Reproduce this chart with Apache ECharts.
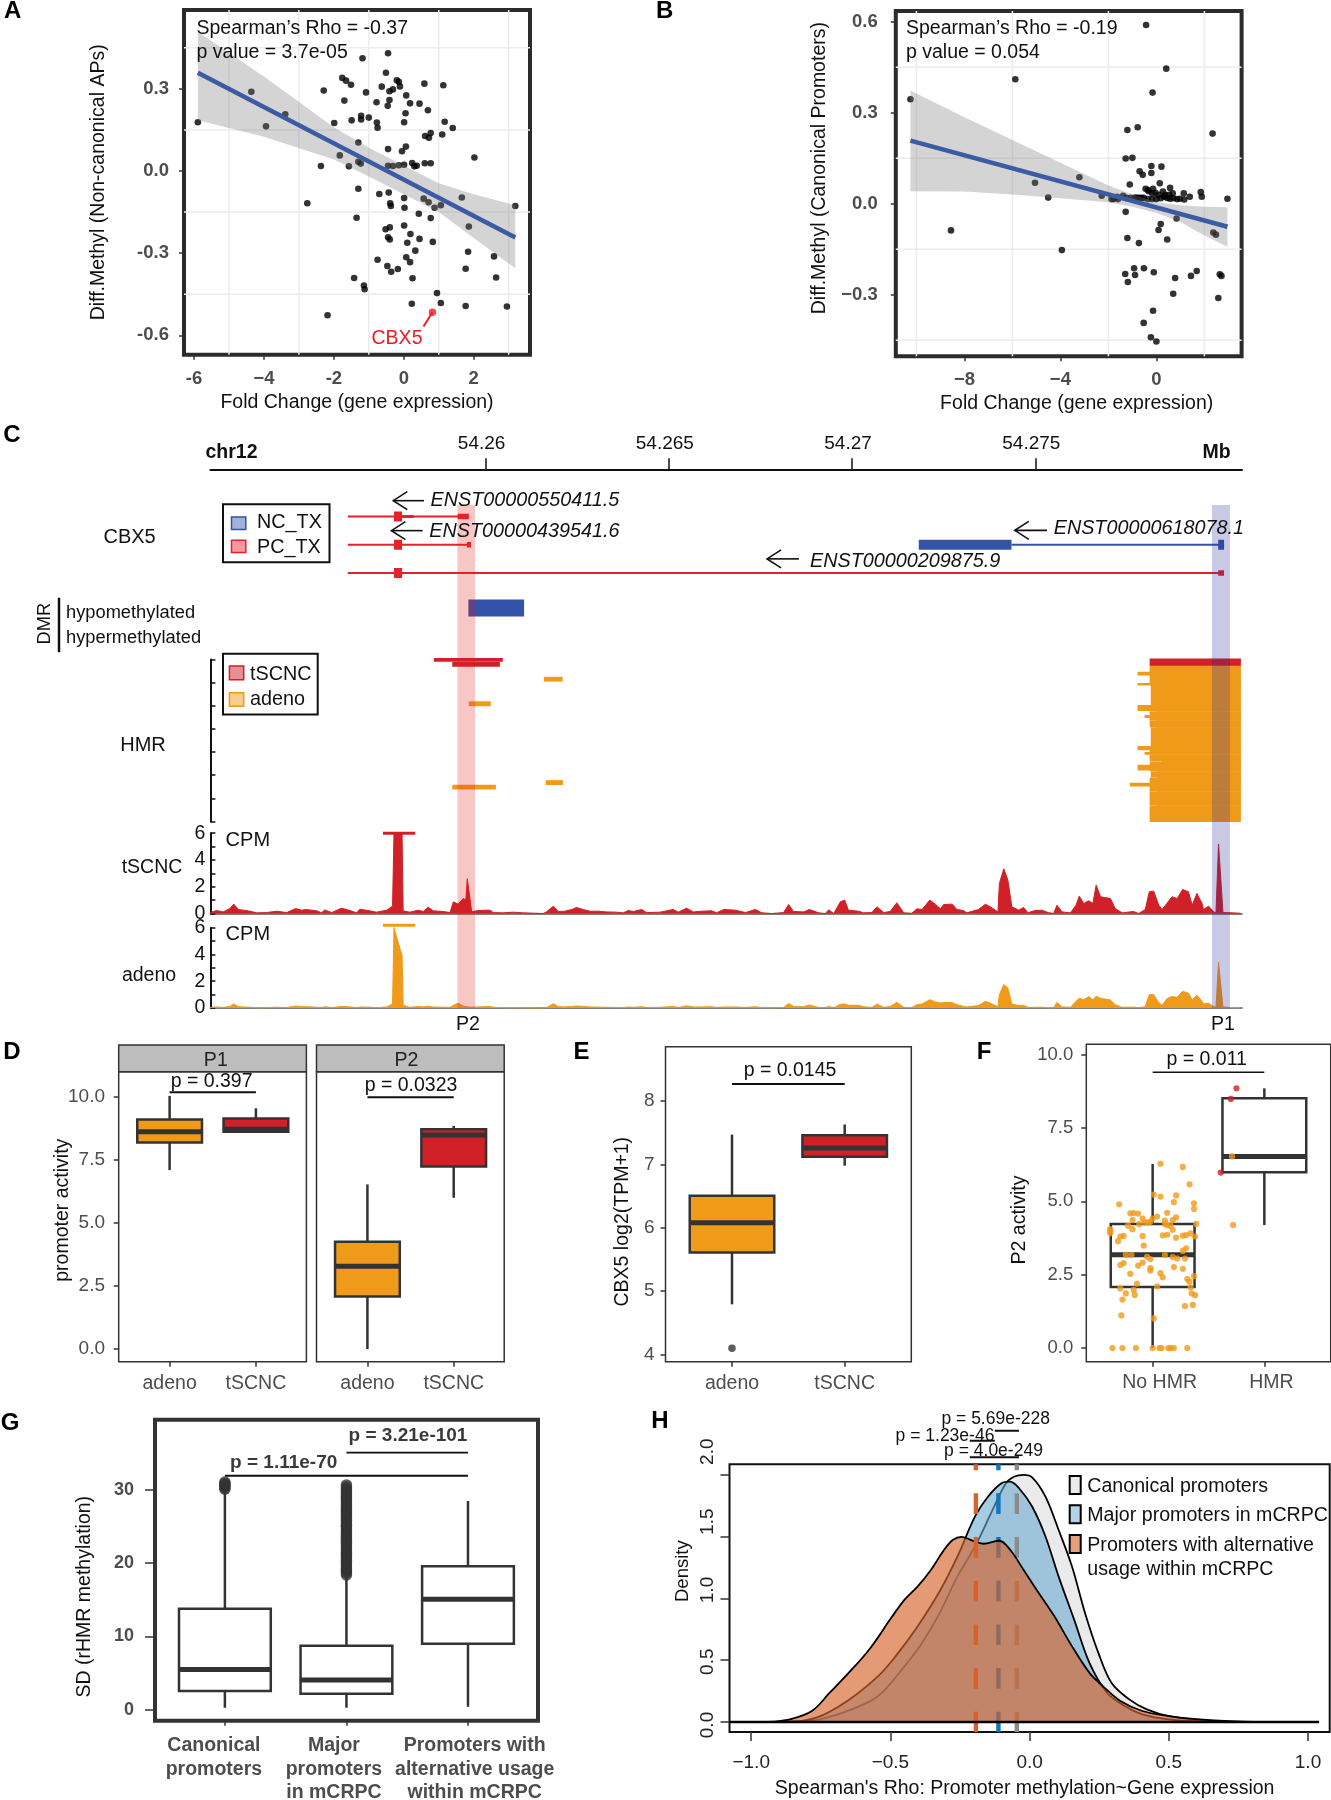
<!DOCTYPE html>
<html><head><meta charset="utf-8">
<script src="https://cdn.jsdelivr.net/npm/echarts@6/dist/echarts.min.js"></script>
<style>html,body{margin:0;padding:0;background:#fff}#c{width:1331px;height:1800px}</style></head>
<body><div id="c"></div>
<script>
// ---------- Panel A ----------
const aPoints=[[-5.89,.178],[-4.36,.289],[-3.94,.163],[-3.39,.207],[-2.29,.294],[-1.99,.175],[-1.76,.34],[-1.65,.33],[-1.51,.315],[-1.7,.257],[-1.18,.412],[-1.08,.287],[-.45,.43],[-.51,.359],[-.63,.308],[-.31,.298],[-.41,.291],[-.2,.331],[-.14,.326],[-.11,.309],[.07,.276],[.59,.319],[1.13,.313],[-.78,.251],[-.41,.259],[-.46,.238],[.18,.247],[.45,.246],[.69,.222],[.05,.211],[-1.22,.202],[-1.22,.188],[-1,.195],[-1.49,.185],[-.77,.177],[-.75,.158],[.01,.178],[1.17,.18],[1.4,.157],[1.1,.133],[.77,.139],[.61,.128],[.72,.121],[-1.3,.104],[-.45,.08],[.06,.089],[-.05,.072],[2.02,.049],[-1.83,.057],[-2.37,.018],[-1.57,.017],[-1.3,.034],[-1.23,.027],[-.45,.019],[-.31,.018],[-.14,.021],[.01,.023],[.24,.029],[.3,.017],[.37,.019],[.6,.028],[.77,.028],[-1.3,-.065],[-.7,-.084],[-.43,-.079],[.01,-.099],[.57,-.101],[.71,-.114],[.88,-.134],[1.06,-.125],[1.66,-.097],[3.19,-.128],[-2.76,-.118],[-.39,-.118],[-.37,-.128],[.02,-.134],[.43,-.156],[-1.35,-.171],[.77,-.172],[.01,-.199],[-.4,-.206],[-.52,-.213],[.19,-.23],[1.86,-.203],[-.45,-.242],[-.4,-.25],[.45,-.248],[.1,-.262],[.83,-.259],[.33,-.291],[1.84,-.295],[-.75,-.324],[.07,-.315],[.18,-.333],[2.58,-.312],[-.47,-.347],[-.36,-.368],[-.17,-.358],[1.77,-.357],[-1.42,-.391],[.25,-.392],[2.64,-.389],[-1.14,-.418],[-1.12,-.432],[.95,-.446],[.23,-.485],[1.06,-.482],[1.77,-.493],[2.95,-.495],[-2.18,-.527]];
const aHighlight=[.82,-.516];
const aHighlightLeader=[[.82,-.516],[.565,-.568]];
const aLine=[[-5.89,.359],[3.19,-.243]];
const aBandX=[-5.89,-4,-2,-1,0,1,2,3.19];
const aBandHi=[.509,.345,.16,.085,.02,-.045,-.085,-.125];
const aBandLo=[.185,.125,.042,-.02,-.085,-.15,-.245,-.355];
const aXTicks=[-6,-4,-2,0,2], aXLabels=['-6','−4','-2','0','2'];
const aYTicks=[.3,0,-.3,-.6], aYLabels=['0.3','0.0','-0.3','-0.6'];
const aGridX=[-5,-3,-1,1,3], aGridY=[.45,.15,-.15,-.45];
// ---------- Panel B ----------
const bPoints=[[-.43,.589],[.41,.445],[-5.88,.41],[-.16,.366],[-10.25,.344],[-.78,.252],[-1.21,.243],[2.34,.231],[-1.28,.149],[-1,.151],[-.21,.124],[.21,.122],[-.7,.107],[-.21,.101],[-.57,.095],[-3.21,.087],[-5.06,.069],[-1.11,.063],[.14,.067],[-.45,.049],[-.14,.049],[.57,.052],[-.32,.041],[-.04,.036],[.27,.04],[.68,.034],[1.14,.034],[1.85,.038],[1.89,.023],[1.39,.023],[2.96,.016],[-4.51,.02],[-2.28,.026],[-1.87,.015],[-1.78,.015],[-1.64,.023],[-1.6,.015],[-1.39,.026],[-1.25,.019],[-1.07,.019],[-.89,.02],[-.8,.019],[-.71,.019],[-.62,.019],[-.53,.019],[-.36,.015],[-.18,.015],[0,.015],[.18,.018],[.32,.023],[.45,.019],[.57,.016],[.71,.018],[.86,.015],[.98,.016],[1.16,.014],[-.36,.045],[-.18,.034],[.09,.029],[.36,.029],[.53,.029],[-1.28,-.027],[.84,-.049],[.18,-.067],[.09,-.087],[-8.56,-.088],[.45,-.118],[-1.21,-.113],[-.73,-.13],[-3.94,-.153],[2.37,-.095],[2.48,-.102],[-.93,-.213],[-.52,-.213],[-1.3,-.232],[-.89,-.235],[-.11,-.226],[1.68,-.222],[1.44,-.238],[.78,-.245],[-1.19,-.258],[2.64,-.233],[2.71,-.238],[.7,-.297],[2.58,-.311],[-.14,-.353],[-.53,-.393],[-.23,-.44],[0,-.454]];
const bLine=[[-10.25,.208],[2.96,-.076]];
const bBandX=[-10.25,-8,-6,-4,-2,-1,0,1,2,2.96];
const bBandHi=[.373,.285,.21,.135,.06,.03,.005,-.005,-.01,-.012];
const bBandLo=[.041,.04,.03,.018,.005,-.01,-.03,-.06,-.105,-.142];
const bXTicks=[-8,-4,0], bXLabels=['−8','−4','0'];
const bYTicks=[.6,.3,0,-.3], bYLabels=['0.6','0.3','0.0','−0.3'];
const bGridX=[-10,-6,-2,2], bGridY=[.45,.15,-.15,-.45];
// ---------- Panel C: genome coordinates (Mb) ----------
const cRulerTicks=[54.26,54.265,54.27,54.275];
const cXMin=54.25249, cXMax=54.28064;
const txLines=[[54.25624,54.25954,1,0],[54.25624,54.25954,2,0],[54.25624,54.28005,3,0],[54.27435,54.28015,2,1]];
// start, end, row, colour class (0 PC, 1 NC), height class (0 large, 1 medium, 2 thin)
const txExons=[[54.2575,54.25772,1,0,0],[54.25772,54.25804,1,0,2],[54.25924,54.25954,1,0,1],[54.2575,54.25772,2,0,0],[54.25949,54.2596,2,0,1],[54.2575,54.25772,3,0,0],[54.27999,54.28015,3,0,1],[54.27182,54.27435,2,1,0],[54.27999,54.28015,2,1,0]];
const txArrows=[[54.25748,54.25832,.44],[54.25743,54.25828,1.5],[54.26768,54.26855,2.5],[54.27444,54.27532,1.49]];
const dmrBar=[[54.25953,54.26105,4.24]];
const hmrRed=[[54.25859,54.26047,-1.4,1.4],[54.25909,54.26039,2,5.8],[54.27812,54.28061,-1,4.8]];
const hmrOrange=[[54.26159,54.2621,14.9,18.6],[54.25954,54.26014,36.1,39.9],[54.25909,54.26028,108.2,112],[54.26164,54.26211,104.3,108.1],
[54.27812,54.28061,4.8,10.6],[54.27779,54.28061,10.6,13.4],[54.27812,54.28061,13.4,18],[54.27844,54.28061,18,18.5],[54.27812,54.28061,18.5,20.2],[54.27779,54.28061,20.2,22],[54.27815,54.28061,22,39.3],[54.27779,54.28061,39.3,44],[54.2783,54.28061,44,44.6],[54.27812,54.28061,44.6,48],[54.27798,54.28061,48,50],[54.27812,54.28061,50,52],[54.2783,54.28061,52,52.5],[54.27812,54.28061,52.5,58],[54.2783,54.28061,58,58.5],[54.27815,54.28061,58.5,74.7],[54.27779,54.28061,74.7,78],[54.27812,54.28061,78,80],[54.27798,54.28061,80,82],[54.27812,54.28061,82,87.6],[54.27844,54.28061,87.6,88.1],[54.27812,54.28061,88.1,91],[54.27779,54.28061,91,95.5],[54.27812,54.28061,95.5,96.2],[54.27832,54.28061,96.2,96.7],[54.27815,54.28061,96.7,101.5],[54.27832,54.28061,101.5,102],[54.27812,54.28061,102,106.5],[54.27758,54.28061,106.5,109.4],[54.27812,54.28061,109.4,114],[54.27832,54.28061,114,114.5],[54.27812,54.28061,114.5,125.5],[54.27832,54.28061,125.5,126],[54.27812,54.28061,126,140]];
const cBands=[[54.25923,54.25971,0],[54.27982,54.28031,1]];
const capT=[[54.2572,54.25808,6]], capA=[[54.2572,54.25808,6.18]];
// coverage positions: kb past 54.25 Mb
const covPos=[2.48,2.66,2.84,3.02,3.13,3.25,3.39,3.57,3.75,4.02,
4.30,4.57,4.82,4.98,5.11,5.39,5.52,5.61,5.80,6.07,
6.30,6.48,6.57,6.84,7.02,7.30,7.46,7.50,7.72,7.75,
7.93,8.16,8.30,8.43,8.57,8.84,9.03,9.12,9.25,9.39,
9.46,9.50,9.62,9.75,9.98,10.12,10.21,10.48,10.76,11.03,
11.57,11.66,11.85,11.98,12.16,12.35,12.48,12.66,12.85,13.07,
13.30,13.57,13.76,13.89,14.03,14.26,14.39,14.76,15.12,15.26,
15.48,15.67,15.89,16.17,16.30,
16.50,16.81,17.09,17.36,17.54,17.81,18.13,18.27,18.40,18.68,
18.83,19.09,19.27,19.36,19.50,19.68,19.80,19.90,20.18,20.31,
20.54,20.68,20.86,21.04,21.22,21.41,21.63,21.77,21.91,22.12,
22.27,22.41,22.50,22.73,22.86,23.04,23.13,23.45,23.64,23.82,
23.98,24.02,24.14,24.25,24.36,24.55,24.68,24.80,24.96,25.18,
25.35,25.50,25.59,25.73,25.96,26.11,26.20,26.32,26.46,26.57,
26.66,26.78,27.05,27.18,27.37,27.68,27.82,28.00,28.11,28.23,
28.37,28.46,28.59,28.73,28.87,29.02,29.18,29.28,29.41,29.55,
29.59,29.73,29.87,29.93,30.00,30.12,30.37,30.60];
const covTSCNC=[.07,.22,.12,.37,.70,.3,.25,.17,.05,.07,
.17,.07,.37,.25,.3,.2,.05,.27,.07,.4,
.22,.05,.32,.2,.1,.25,.55,6,6,.2,
.1,.25,.15,.47,.2,.15,.07,.87,.7,1.12,
1.0,2.6,.12,.2,.25,.25,.07,.05,.1,.05,
0,.12,.55,.15,.17,.3,.45,.3,.17,.17,
.12,.1,.05,.22,.15,.3,.07,.1,.3,.1,
.4,.12,.17,.2,.05,
.3,.25,.07,.3,.05,0,.07,.67,.15,.12,
.3,.05,0,.27,0,.87,1.0,.25,.17,.05,
.07,.5,.07,.15,.8,.05,.02,.35,.3,1.0,
.7,.35,.67,.7,.3,.22,.05,.3,.7,.42,
.12,2.25,3.34,2.5,.5,.25,.45,.05,.2,.25,
.07,0,.62,.12,.05,.62,1.3,.75,.95,.75,
2.12,1.25,1.12,.37,.05,.15,0,.3,1.62,1.67,
.62,.3,.75,1.25,1.12,1.8,1.62,.62,1.5,.75,
.3,.55,.12,.05,5.2,.07,.05,.02];
const covAdeno=[.04,.08,.04,.12,.3,.1,.08,.06,.02,.03,
.06,.03,.15,.1,.1,.06,.02,.1,.03,.12,
.08,.02,.08,.06,.02,.08,.3,6,3.9,.2,
.05,.12,.08,.14,.08,.05,.05,.2,.35,.15,
.1,.08,.06,.08,.1,.12,.05,.03,.03,.02,
.01,.03,.32,.1,.08,.12,.15,.12,.08,.07,
.05,.04,.03,.08,.05,.1,.04,.05,.12,.04,
.16,.08,.08,.1,.04,
.08,.08,.04,.1,.03,.02,.04,.33,.12,.1,
.22,.04,.02,.14,.02,.28,.3,.2,.2,.1,
.04,.3,.05,.12,.42,.05,.03,.25,.3,.62,
.45,.38,.42,.4,.25,.12,.08,.18,.5,.3,
.1,1.0,1.75,1.5,.3,.18,.2,.05,.05,.06,
.03,.02,.42,.08,.05,.5,.72,.62,.85,.6,
.88,.72,.6,.25,.05,.07,.02,.1,1.0,1.0,
.4,.2,.7,.85,.8,1.25,1.1,.6,.95,.5,
.3,.35,.1,.05,3.4,.08,.03,.02];
// ---------- Panels D, E, F, G boxes: x, low, q1, median, q3, high ----------
const boxDP1=[[1,7.1,8.19,8.62,9.1,10.04],[2,8.6,8.62,8.72,9.14,9.55]];
const boxDP2=[[1,0,2.09,3.29,4.26,6.53],[2,6,7.24,8.49,8.72,8.85]];
const boxE=[[1,4.79,5.61,6.08,6.505,7.47],[2,6.98,7.12,7.26,7.46,7.63]];
const outE=[[1,4.095]];
const boxF=[[1,0,2.08,3.18,4.23,6.27],[2,4.19,5.99,6.53,8.51,8.85]];
const fOrange=[[1.07,6.28],[1.27,6.17],[1.33,5.58],[1.01,5.23],[1.07,5.16],[1.21,5.2],[1.19,4.97],[1.37,4.93],[.7,4.9],[1.37,4.74],[1.13,4.61],[.8,4.59],[.83,4.6],[.87,4.58],[1.21,4.45],[1.04,4.48],[1,4.41],[.91,4.41],[.82,4.36],[1.18,4.36],[1.11,4.34],[.98,4.3],[.93,4.28],[.96,4.28],[1.11,4.23],[1.39,4.23],[.88,4.22],[.78,4.17],[1.13,4.18],[1.16,4.17],[.82,4.05],[.62,4.05],[.62,3.98],[.62,3.91],[1.18,4.03],[.91,3.82],[.74,3.82],[.71,3.8],[1.09,3.84],[1.13,3.86],[.69,3.64],[1.21,3.76],[1.27,3.83],[1.3,3.85],[1.34,3.91],[1.38,3.8],[.92,3.49],[1.3,3.4],[1.27,3.31],[.76,3.18],[.81,3.17],[1.11,3.17],[.95,3.11],[.98,3.03],[1.18,3.1],[1.22,3.05],[1.29,3.05],[.71,2.83],[.74,2.89],[.91,2.91],[.87,2.81],[1.19,2.76],[1.27,2.7],[.98,2.72],[.98,2.64],[.8,2.53],[1.07,2.55],[1.09,2.41],[1.37,2.45],[1.31,2.35],[1.33,2.26],[.86,2.19],[.71,2.03],[1.04,2.1],[1.34,2.06],[.83,1.98],[.76,1.86],[.84,1.81],[1.35,1.86],[1.38,1.8],[.73,1.65],[1.29,1.43],[1.36,1.47],[.72,1.11],[1.01,1.01],[.64,0],[.73,0],[.85,0],[1,0],[1.06,0],[1.08,0],[1.14,0],[1.16,0],[1.19,0],[1.31,0],[1.71,6.53],[1.72,4.19]];
const fRed=[[1.75,8.85],[1.7,8.49],[1.61,5.98]];
const boxG=[[1,.27,2.55,5.5,13.8,30],[2,.27,2.18,4.05,8.74,18.2],[3,.4,9,15.07,19.6,28.5]];
const outG1=[30.1,30.3,30.5,30.7,30.9,31.1];
const outG2=[18.4,18.7,19,19.2,19.5,19.8,20.1,20.4,20.7,21,21.2,21.5,21.8,22.1,22.4,22.7,23,23.2,23.5,23.8,24.1,24.4,24.7,25,25.2,25.5,25.8,26.1,26.4,26.7,27,27.2,27.5,27.8,28.1,28.4,28.7,29,29.2,29.5,29.8,30.1,30.4,30.7];
// ---------- Panel H ----------
const hCanon=[[-.95,0],[-.85,.004],[-.766,.016],[-.639,.102],[-.544,.21],[-.449,.452],[-.386,.641],[-.323,.883],[-.259,1.179],[-.196,1.421],[-.133,1.717],[-.085,1.933],[-.054,1.987],[-.022,2.0],[.009,1.981],[.057,1.825],[.104,1.556],[.152,1.26],[.199,.883],[.247,.56],[.294,.318],[.358,.183],[.421,.102],[.5,.048],[.658,.008],[.816,0],[1.0,0]];
const hMajor=[[-.95,0],[-.877,0],[-.766,.035],[-.655,.17],[-.544,.371],[-.481,.533],[-.402,.775],[-.323,1.058],[-.259,1.34],[-.196,1.664],[-.149,1.825],[-.101,1.933],[-.07,1.946],[-.038,1.892],[.009,1.744],[.057,1.502],[.104,1.179],[.16,.829],[.215,.479],[.278,.237],[.342,.129],[.405,.062],[.5,.022],[.658,.003],[.9,0]];
const hAlt=[[-.94,0],[-.861,.022],[-.782,.089],[-.718,.237],[-.655,.385],[-.576,.587],[-.497,.843],[-.449,.991],[-.402,1.098],[-.354,1.233],[-.307,1.394],[-.275,1.475],[-.244,1.499],[-.212,1.475],[-.165,1.443],[-.109,1.467],[-.07,1.394],[-.022,1.233],[.025,1.071],[.089,.856],[.152,.614],[.215,.398],[.263,.291],[.326,.17],[.405,.089],[.5,.048],[.579,.027],[.737,.005],[.9,0]];
const hMedians={gray:-.046,blue:-.112,orange:-.193};
const hXTicks=[-1,-.5,0,.5,1], hXLabels=['−1.0','−0.5','0.0','0.5','1.0'];
const hYTicks=[0,.5,1,1.5,2], hYLabels=['0.0','0.5','1.0','1.5','2.0'];
const hPBars=[[-.125,-.038,2.358],[-.215,-.125,2.277],[-.215,-.038,2.143]];

const FONT='Liberation Sans', ORANGE='#f09a1a', RED='#cf2127', BLUE='#3353a8', TXRED='#e8202a';
const option={animation:false,backgroundColor:'#fff',grid:[],xAxis:[],yAxis:[],series:[],graphic:[]};
function plain(min,max,extra){return Object.assign({type:'value',min,max,show:true,splitLine:{show:false},axisLine:{show:false,onZero:false},axisTick:{show:false},axisLabel:{show:false}},extra||{});}
function ticked(min,max,vals,labs,o){o=o||{};
 const a=plain(min,max);
 a.axisTick={show:true,customValues:vals,length:o.tick||5,lineStyle:{color:o.tickColor||'#333',width:1.5}};
 a.axisLabel={show:true,customValues:vals,margin:o.margin||12,fontFamily:FONT,fontSize:o.size||18.5,fontWeight:o.weight||'normal',color:o.color||'#4d4d4d',rotate:o.rotate||0,padding:o.padding||0,hideOverlap:false,
   formatter:v=>{const i=vals.findIndex(t=>Math.abs(t-v)<1e-6);return i<0?'':labs[i];}};
 if(o.name){a.name=o.name;a.nameLocation='middle';a.nameGap=o.gap;a.nameMoveOverlap=false;a.nameTextStyle={fontFamily:FONT,fontSize:o.nameSize||19.5,color:'#111',padding:o.namePad||0};}
 return a;}
function addGrid(box,x,y,frame){const i=option.grid.length;
 option.grid.push(Object.assign({left:box[0],top:box[1],width:box[2],height:box[3],containLabel:false},frame?{show:true,borderColor:frame[0],borderWidth:frame[1],backgroundColor:'transparent'}:{show:false}));
 x.gridIndex=i;y.gridIndex=i;option.xAxis.push(x);option.yAxis.push(y);return i;}
function S(g,o){option.series.push(Object.assign({xAxisIndex:g,yAxisIndex:g,silent:true},o));}
function t(text,x,y,o){o=o||{};option.graphic.push({type:'text',x,y,rotation:o.rot||0,silent:true,z:50,style:{text,fontFamily:FONT,fontSize:o.size||19.5,fontWeight:o.bold?'bold':'normal',fontStyle:o.italic?'italic':'normal',fill:o.color||'#111',align:o.align||'center',verticalAlign:o.va||'middle'}});}
function rect(x,y,w,h,fill,stroke,lw){option.graphic.push({type:'rect',silent:true,z:40,shape:{x,y,width:w,height:h},style:{fill,stroke,lineWidth:lw||1}});}
function linesOn(g,name,segs,color,width,z){ // segs [x0,x1,y]
 segs.forEach(s=>S(g,{type:'line',name,data:[[s[0],s[2]],[s[1],s[2]]],symbol:'none',clip:false,z:z||5,lineStyle:{color,width}}));}
function gridMarks(g,xs,ys){
 S(g,{type:'custom',data:xs.map(v=>[v]),z:1,renderItem:(p,api)=>{const c=p.coordSys,a=api.coord([api.value(0),0]);return {type:'line',shape:{x1:a[0],y1:c.y,x2:a[0],y2:c.y+c.height},style:{stroke:'#ececec',lineWidth:1.5,fill:null}};}});
 S(g,{type:'custom',data:ys.map(v=>[0,v]),z:1,renderItem:(p,api)=>{const c=p.coordSys,a=api.coord([0,api.value(1)]);return {type:'line',shape:{x1:c.x,y1:a[1],x2:c.x+c.width,y2:a[1]},style:{stroke:'#ececec',lineWidth:1.5,fill:null}};}});}
function bandSeries(g,xs,hi,lo){S(g,{type:'custom',data:[[0]],z:4,renderItem:(p,api)=>{
 const pts=xs.map((x,i)=>api.coord([x,hi[i]])).concat(xs.map((x,i)=>api.coord([x,lo[i]])).reverse());
 return {type:'polygon',shape:{points:pts},style:{fill:'rgba(120,120,120,0.32)'}};}});}
function boxSeries(g,rows,fills,w,lw,mlw){S(g,{type:'custom',data:rows,encode:{x:0,y:[1,2,3,4,5]},z:3,renderItem:(p,api)=>{
 const x=api.value(0),lo=api.value(1),q1=api.value(2),md=api.value(3),q3=api.value(4),hi=api.value(5);
 const A=api.coord([x-w/2,q3]),B=api.coord([x+w/2,q1]),M0=api.coord([x-w/2,md]),M1=api.coord([x+w/2,md]),T=api.coord([x,hi]),U=api.coord([x,q3]),D=api.coord([x,q1]),L=api.coord([x,lo]);
 const st={stroke:'#333',lineWidth:lw,fill:null};
 return {type:'group',children:[
  {type:'line',shape:{x1:T[0],y1:T[1],x2:U[0],y2:U[1]},style:st},
  {type:'line',shape:{x1:D[0],y1:D[1],x2:L[0],y2:L[1]},style:st},
  {type:'rect',shape:{x:A[0],y:A[1],width:B[0]-A[0],height:B[1]-A[1]},style:{fill:fills[p.dataIndex],stroke:'#333',lineWidth:lw}},
  {type:'line',shape:{x1:M0[0],y1:M0[1],x2:M1[0],y2:M1[1]},style:{stroke:'#333',lineWidth:mlw,fill:null}}]};}});}

// ===== A =====
const gA=addGrid([184,10,346,344.7],
 ticked(-6.286,3.61,aXTicks,aXLabels,{weight:'bold',margin:15,name:'Fold Change (gene expression)',gap:38}),
 ticked(-.671,.588,aYTicks,aYLabels,{weight:'bold',margin:15,name:'Diff.Methyl (Non-canonical APs)',gap:75}),['#2b2b2b',4]);
gridMarks(gA,aGridX,aGridY);
S(gA,{type:'scatter',data:aPoints,symbolSize:6.6,itemStyle:{color:'#000'},z:2});
bandSeries(gA,aBandX,aBandHi,aBandLo);
S(gA,{type:'line',data:aLine,symbol:'none',lineStyle:{color:'#3b5ba5',width:4.5},z:5});
S(gA,{type:'line',data:aHighlightLeader,symbol:'none',lineStyle:{color:'#ed1c24',width:2},z:6});
S(gA,{type:'scatter',data:[aHighlight],symbolSize:7.5,itemStyle:{color:'#ed1c24'},z:6});
t('Spearman’s Rho = -0.37',196.5,29,{align:'left'});
t('p value = 3.7e-05',196.5,52.3,{align:'left'});
t('CBX5',397,338.3,{color:'#ed1c24'});
// ===== B =====
const gB=addGrid([895.8,11,345.8,345.3],
 ticked(-10.86,3.55,bXTicks,bXLabels,{weight:'bold',margin:14,name:'Fold Change (gene expression)',gap:37,namePad:[0,0,0,16]}),
 ticked(-.503,.635,bYTicks,bYLabels,{weight:'bold',margin:18,name:'Diff.Methyl (Canonical Promoters)',gap:66,namePad:[0,0,0,31]}),['#2b2b2b',4]);
gridMarks(gB,bGridX,bGridY);
S(gB,{type:'scatter',data:bPoints,symbolSize:6.6,itemStyle:{color:'#000'},z:2});
bandSeries(gB,bBandX,bBandHi,bBandLo);
S(gB,{type:'line',data:bLine,symbol:'none',lineStyle:{color:'#3b5ba5',width:4.5},z:5});
t('Spearman’s Rho = -0.19',906,29,{align:'left'});
t('p value = 0.054',906,52.3,{align:'left'});
// ===== C =====
const gR=addGrid([210.4,470.2,1031.6,1],
 plain(cXMin,cXMax,{position:'top',axisLine:{show:true,onZero:false,lineStyle:{color:'#111',width:2}},axisTick:{show:true,customValues:cRulerTicks,length:12,lineStyle:{color:'#111',width:1.5}},axisLabel:{show:true,customValues:cRulerTicks,fontFamily:FONT,fontSize:19,color:'#111',margin:17,padding:[0,8,0,0],hideOverlap:false}}),
 plain(0,1,{show:false}));
const gT=addGrid([210.4,488.25,1031.6,135.6],plain(cXMin,cXMax,{show:false}),plain(0,4.8,{show:false,inverse:true}));
const txCol=[TXRED,BLUE], exH=[10,5.5,3];
S(gT,{type:'custom',data:txLines,z:4,renderItem:(p,api)=>{const a=api.coord([api.value(0),api.value(2)]),b=api.coord([api.value(1),api.value(2)]);
 return {type:'rect',shape:{x:a[0],y:a[1]-1,width:b[0]-a[0],height:2},style:{fill:txCol[api.value(3)]}};}});
S(gT,{type:'custom',data:txExons,z:5,renderItem:(p,api)=>{const a=api.coord([api.value(0),api.value(2)]),b=api.coord([api.value(1),api.value(2)]),h=exH[api.value(4)];
 return {type:'rect',shape:{x:a[0],y:a[1]-h/2,width:b[0]-a[0],height:h},style:{fill:txCol[api.value(3)]}};}});
S(gT,{type:'custom',data:txArrows,z:5,renderItem:(p,api)=>{const a=api.coord([api.value(0),api.value(2)]);
 return {type:'polyline',shape:{points:[[a[0]+14,a[1]-9],[a[0],a[1]],[a[0]+14,a[1]+9]]},style:{stroke:'#111',lineWidth:1.6,fill:null}};}});
S(gT,{type:'custom',data:txArrows,z:5,renderItem:(p,api)=>{const a=api.coord([api.value(0),api.value(2)]),b=api.coord([api.value(1),api.value(2)]);
 return {type:'line',shape:{x1:a[0],y1:a[1],x2:b[0],y2:b[1]},style:{stroke:'#111',lineWidth:1.6,fill:null}};}});
S(gT,{type:'custom',data:dmrBar,z:5,renderItem:(p,api)=>{const a=api.coord([api.value(0),api.value(2)]),b=api.coord([api.value(1),api.value(2)]);
 return {type:'rect',shape:{x:a[0],y:a[1]-8.5,width:b[0]-a[0],height:17},style:{fill:BLUE}};}});
const hmrAxisY=plain(0,140,{inverse:true,interval:20,axisLine:{show:true,onZero:false,lineStyle:{color:'#111',width:2}},axisTick:{show:true,inside:true,length:5,lineStyle:{color:'#111',width:1.5}}});
const gH=addGrid([210.4,659.6,1031.6,161.8],plain(cXMin,cXMax,{show:false}),hmrAxisY);
const hmrRender=col=>(p,api)=>{const a=api.coord([api.value(0),api.value(2)]),b=api.coord([api.value(1),api.value(3)]);
 return {type:'rect',shape:{x:a[0],y:a[1],width:b[0]-a[0],height:b[1]-a[1]+.5},style:{fill:col}};};
S(gH,{type:'custom',data:hmrOrange,z:4,renderItem:hmrRender(ORANGE)});
S(gH,{type:'custom',data:hmrRed,z:5,renderItem:hmrRender(RED)});
function covAxis(pad){return plain(0,6,{interval:1,axisLine:{show:true,onZero:false,lineStyle:{color:'#111',width:2}},axisTick:{show:true,inside:true,length:5,lineStyle:{color:'#111',width:1.5}},axisLabel:{show:true,margin:5,padding:[pad,0,0,0],fontFamily:FONT,fontSize:19.5,color:'#111',formatter:v=>v%2===0?String(v):''}});}
function covX(){return plain(cXMin,cXMax,{axisLine:{show:true,onZero:false,lineStyle:{color:'#555',width:1.5}}});}
const gTS=addGrid([210.4,833.2,1031.6,80.3],covX(),covAxis(7));
const gAD=addGrid([210.4,927.7,1031.6,80.3],covX(),covAxis(5));
const toMb=k=>+(54.25+k/1000).toFixed(5);
S(gTS,{type:'line',data:covPos.map((k,i)=>[toMb(k),covTSCNC[i]]),symbol:'none',clip:false,z:4,lineStyle:{color:RED,width:1},areaStyle:{color:RED,opacity:1}});
S(gAD,{type:'line',data:covPos.map((k,i)=>[toMb(k),covAdeno[i]]),symbol:'none',clip:false,z:4,lineStyle:{color:ORANGE,width:1},areaStyle:{color:ORANGE,opacity:1}});
linesOn(gTS,'cap',capT,RED,3,5);
linesOn(gAD,'cap',capA,ORANGE,3,5);
const gBand=addGrid([210.4,505,1031.6,503],plain(cXMin,cXMax,{show:false}),plain(0,1,{show:false}));
const bandCols=['rgba(232,28,28,0.25)','rgba(36,40,152,0.25)'];
S(gBand,{type:'custom',data:cBands,z:20,renderItem:(p,api)=>{const a=api.coord([api.value(0),1]),b=api.coord([api.value(1),0]);
 return {type:'rect',shape:{x:a[0],y:a[1],width:b[0]-a[0],height:b[1]-a[1]},style:{fill:bandCols[api.value(2)]}};}});
t('chr12',231.5,452.4,{bold:true});t('Mb',1216.7,452.4,{bold:true});
t('ENST00000550411.5',430.5,500.7,{align:'left',italic:true,size:19.8});
t('ENST00000439541.6',429.3,531,{align:'left',italic:true,size:19.8});
t('ENST00000209875.9',810,561.2,{align:'left',italic:true,size:19.8});
t('ENST00000618078.1',1053.7,528,{align:'left',italic:true,size:19.8});
t('CBX5',129.6,537.8,{size:20});t('HMR',143,745.4,{size:20});t('tSCNC',152,867.6);t('adeno',149,975.6);
t('CPM',225.6,840.3,{align:'left',size:20});t('CPM',225.6,934.8,{align:'left',size:20});
t('P2',468,1024.2);t('P1',1223,1024.2);
t('DMR',45,623.6,{rot:Math.PI/2,size:18.3});
t('hypomethylated',66,612.6,{align:'left',size:18.3});t('hypermethylated',66,637.5,{align:'left',size:18.3});
rect(58,598,2,54,'#111','#111',.5);
rect(223,504.2,106.5,58.1,'#fff','#111',2);
rect(231.5,516.9,14.3,12.6,'rgba(51,83,168,0.45)',BLUE,1.5);
rect(231.5,540.2,14.3,12.3,'rgba(232,32,42,0.45)',TXRED,1.5);
t('NC_TX',257,522.8,{align:'left',size:19.8});t('PC_TX',257,547.7,{align:'left',size:19.8});
rect(223,653.7,94.7,60.9,'#fff','#111',2);
rect(229.4,666,14.3,13.8,'rgba(207,33,39,0.5)',RED,1.5);
rect(229.4,692.8,14.3,13.5,'rgba(240,154,26,0.5)',ORANGE,1.5);
t('tSCNC',250,675,{align:'left',size:19.8});t('adeno',250,699.6,{align:'left',size:19.8});
// ===== D =====
const catX=['adeno','tSCNC'];
const dYT=[0,2.5,5,7.5,10], dYL=['0.0','2.5','5.0','7.5','10.0'];
const gD1=addGrid([118.7,1071.7,187.7,290],ticked(.41,2.585,[1,2],catX,{size:19.5,margin:12}),
 ticked(-.5,11,dYT,dYL,{size:19,margin:13.7,name:'promoter activity',gap:46,namePad:[0,0,0,13]}),['#333',1.5]);
const gD2=addGrid([316.5,1071.7,187.7,290],ticked(.41,2.585,[1,2],catX,{size:19.5,margin:12}),plain(-.5,11),['#333',1.5]);
boxSeries(gD1,boxDP1,[ORANGE,RED],.75,2.5,5);
boxSeries(gD2,boxDP2,[ORANGE,RED],.75,2.5,5);
linesOn(gD1,'p',[[1,2,10.19]],'#111',2);
linesOn(gD2,'p',[[1,2,9.99]],'#111',2);
rect(118.7,1045,187.7,26.7,'#bdbdbd','#333',1.5);rect(316.5,1045,187.7,26.7,'#bdbdbd','#333',1.5);
t('P1',215.8,1060.7,{color:'#222'});t('P2',406.5,1060.7,{color:'#222'});
t('p = 0.397',211.6,1081.7);t('p = 0.0323',411,1086);
// ===== E =====
const gE=addGrid([665.5,1046.7,245.8,315],ticked(.41,2.591,[1,2],catX,{size:19.5,margin:12}),
 ticked(3.884,8.858,[4,5,6,7,8],['4','5','6','7','8'],{size:19,margin:11,name:'CBX5 log2(TPM+1)',gap:33,namePad:[0,35,0,0]}),['#333',1.5]);
boxSeries(gE,boxE,[ORANGE,RED],.75,2.5,5);
S(gE,{type:'scatter',data:outE,symbolSize:7.5,itemStyle:{color:'#333'},z:5});
linesOn(gE,'p',[[1,2,8.27]],'#111',2);
t('p = 0.0145',790,1070.7);
// ===== F =====
const gF=addGrid([1086.3,1044.3,244.4,317.4],ticked(.406,2.594,[1,2],['No HMR','HMR'],{size:19.5,margin:11,padding:[0,0,0,14]}),
 ticked(-.466,10.35,dYT,dYL,{size:18.5,margin:13,name:'P2 activity',gap:57,namePad:[0,34,0,0]}),['#333',1.5]);
boxSeries(gF,boxF,['rgba(255,255,255,0)','rgba(255,255,255,0)'],.75,2.5,5);
S(gF,{type:'scatter',data:fOrange,symbolSize:6.2,itemStyle:{color:ORANGE},z:6});
S(gF,{type:'scatter',data:fRed,symbolSize:6.2,itemStyle:{color:RED},z:6});
linesOn(gF,'p',[[1,2,9.4]],'#111',1.6);
t('p = 0.011',1206.7,1059.3);
// ===== G =====
const gG=addGrid([155,1419.7,383,301],
 ticked(.425,3.576,[1,2,3],['','',''],{}),
 ticked(-1.5,39.6,[0,10,20,30],['0','10','20','30'],{weight:'bold',size:18,margin:21,tick:10,name:'SD (rHMR methylation)',gap:60,namePad:[0,53,0,0]}),['#333',4]);
boxSeries(gG,boxG,['rgba(255,255,255,0)','rgba(255,255,255,0)','rgba(255,255,255,0)'],.755,2.5,5);
S(gG,{type:'scatter',data:outG1.map(v=>[1,v]),symbolSize:11.5,itemStyle:{color:'#333'},z:6});
S(gG,{type:'scatter',data:outG2.map(v=>[2,v]),symbolSize:11.5,itemStyle:{color:'#333'},z:6});
linesOn(gG,'p',[[2,3,35.1],[1,3,31.95]],'#111',1.8);
t('p = 3.21e-101',408,1436,{bold:true,size:19,color:'#3a3a3a'});t('p = 1.11e-70',283.7,1462.7,{bold:true,size:19,color:'#3a3a3a'});
const gx=[['Canonical','promoters'],['Major','promoters','in mCRPC'],['Promoters with','alternative usage','within mCRPC']];
const gxC=[213.9,333.9,474.7],gxY=[1746,1770,1792.7];
gx.forEach((ls,i)=>ls.forEach((s,j)=>t(s,gxC[i],gxY[j],{bold:true,size:19.5,color:'#4d4d4d'})));
// ===== H =====
const gHd=addGrid([729.5,1464.3,600.2,268.4],ticked(-1.078,1.078,hXTicks,hXLabels,{size:19,margin:21,tick:9,color:'#222',name:"Spearman's Rho: Promoter methylation~Gene expression",gap:47,nameSize:19.5,namePad:[0,10,0,0]}),
 ticked(-.081,2.086,hYTicks,['','','','',''],{size:19,margin:12,tick:9,color:'#222',name:'Density',gap:37,nameSize:18.5,namePad:[0,0,0,54]}),['#111',2]);
const area=(data,fill,z)=>S(gHd,{type:'line',data,smooth:.35,symbol:'none',z,lineStyle:{color:'#000',width:1.8},areaStyle:{color:fill,opacity:1}});
const dash=(x,color,z)=>S(gHd,{type:'line',data:[[x,2.086],[x,-.081]],symbol:'none',z,lineStyle:{color,width:4.4,type:[20.7,23],dashOffset:14.7}});
area(hCanon,'rgba(232,232,232,0.9)',2);
area(hMajor,'rgba(107,170,210,0.6)',3);
dash(hMedians.gray,'#8c8c8c',4);
dash(hMedians.blue,'#0f75bd',5);
area(hAlt,'rgba(215,100,45,0.65)',6);
dash(hMedians.orange,'#d9622b',7);
S(gHd,{type:'line',data:[[-1.077,0],[1.04,0]],symbol:'none',z:8,lineStyle:{color:'#000',width:2.5}});
linesOn(gHd,'p',hPBars,'#111',2,9);
hYLabels.forEach((s,i)=>t(s,708,[1725,1661.7,1590,1521.7,1451.7][i],{rot:Math.PI/2,size:19,color:'#222'}));
t('p = 5.69e-228',995.7,1419,{size:17.5});t('p = 1.23e-46',945,1435.7,{size:17.5});t('p = 4.0e-249',993.5,1451,{size:17.5});
rect(1069.7,1476,11,18,'#ebebeb','#000',2);rect(1069.7,1505.3,11,18,'#b3d3e8','#000',2);rect(1069.7,1535,11,18,'#e6a07c','#000',2);
t('Canonical promoters',1087.3,1486.7,{align:'left',size:19.6});t('Major promoters in mCRPC',1087.3,1515.7,{align:'left',size:19.6});
t('Promoters with alternative',1087.3,1546,{align:'left',size:19.6});t('usage within mCRPC',1087.3,1569.3,{align:'left',size:19.6});
// ===== panel letters =====
[['A',12.6,11.7],['B',664.7,11],['C',11.8,435.7],['D',12,1052.3],['E',581.5,1052.7],['F',984,1052],['G',10,1423],['H',660,1421.7]].forEach(l=>t(l[0],l[1],l[2],{bold:true,size:24,color:'#000'}));
const chart=echarts.init(document.getElementById('c'),null,{renderer:'canvas'});
chart.setOption(option);
</script></body></html>
